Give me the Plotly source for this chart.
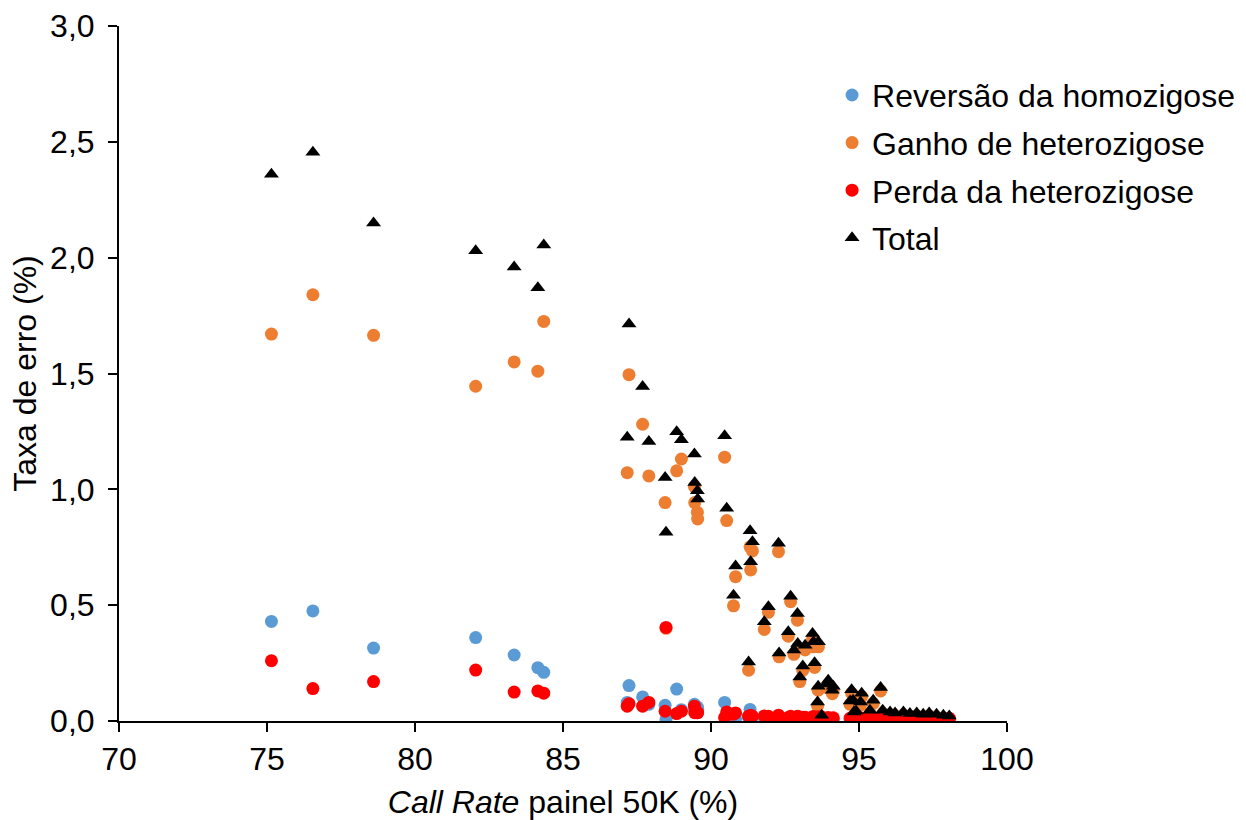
import plotly.graph_objects as go

# Call rate of each sample (%)
call_rate = [
    75.15, 76.55, 78.60, 82.05, 83.35, 84.15, 84.35,
    87.23, 87.17, 87.69, 87.90, 88.45, 88.48, 88.84, 89.00, 89.44, 89.45, 89.54, 89.55,
    90.46, 90.53, 90.83, 91.34, 90.76, 91.32, 91.40, 92.28, 91.94, 92.69, 91.80, 92.92,
    92.61, 93.43, 92.93, 93.18, 93.63, 93.46, 92.30, 92.80, 93.50, 93.10, 91.27, 93.00,
    93.96, 93.62, 94.13, 94.75, 95.09, 95.73, 94.70, 95.05, 95.48, 94.90, 95.37, 95.80,
    96.05, 96.22, 96.50, 96.72, 96.95, 97.17, 97.37, 97.62, 97.85, 98.05, 93.74, 93.60,
    94.80, 94.83, 94.10, 93.90,
]
# Reversão da homozigose (%)
reversao = [
    0.430, 0.475, 0.315, 0.360, 0.285, 0.230, 0.210,
    0.153, 0.080, 0.104, 0.072, 0.068, 0.007, 0.138, 0.049, 0.072, 0.050, 0.060, 0.050,
    0.080, 0.020, 0.010, 0.012, 0.015, 0.050, 0.020, 0.010, 0.005, 0.005, 0.012, 0.008,
    0.004, 0.005, 0.004, 0.004, 0.004, 0.004, 0.004, 0.004, 0.004, 0.003, 0.015, 0.003,
    0.003, 0.003, 0.003, 0.003, 0.003, 0.003, 0.002, 0.002, 0.002, 0.002, 0.002, 0.002,
    0.002, 0.002, 0.002, 0.002, 0.002, 0.002, 0.002, 0.002, 0.002, 0.002, 0.003, 0.003,
    0.003, 0.003, 0.003, 0.003,
]
# Ganho de heterozigose (%)
ganho = [
    1.670, 1.840, 1.665, 1.445, 1.550, 1.510, 1.725,
    1.495, 1.072, 1.281, 1.058, 0.943, 0.400, 1.080, 1.131, 1.012, 0.943, 0.901, 0.872,
    1.139, 0.865, 0.623, 0.652, 0.497, 0.752, 0.734, 0.731, 0.469, 0.515, 0.395, 0.435,
    0.366, 0.355, 0.315, 0.307, 0.320, 0.320, 0.277, 0.288, 0.231, 0.218, 0.219, 0.170,
    0.158, 0.133, 0.133, 0.120, 0.105, 0.130, 0.072, 0.068, 0.076, 0.030, 0.033, 0.033,
    0.027, 0.023, 0.027, 0.020, 0.023, 0.017, 0.023, 0.017, 0.013, 0.008, 0.005, 0.065,
    0.075, 0.025, 0.118, 0.145,
]
# Perda da heterozigose (%)
perda = [
    0.260, 0.140, 0.170, 0.220, 0.125, 0.130, 0.120,
    0.075, 0.064, 0.064, 0.080, 0.042, 0.404, 0.032, 0.042, 0.064, 0.036, 0.036, 0.036,
    0.015, 0.039, 0.035, 0.025, 0.030, 0.020, 0.020, 0.025, 0.020, 0.020, 0.022, 0.020,
    0.015, 0.018, 0.016, 0.016, 0.018, 0.018, 0.013, 0.014, 0.016, 0.016, 0.021, 0.017,
    0.015, 0.014, 0.014, 0.012, 0.012, 0.012, 0.012, 0.012, 0.012, 0.011, 0.011, 0.011,
    0.010, 0.010, 0.010, 0.010, 0.010, 0.010, 0.010, 0.010, 0.010, 0.012, 0.017, 0.014,
    0.012, 0.011, 0.012, 0.012,
]
# Total (%)
total = [
    2.360, 2.455, 2.150, 2.030, 1.960, 1.870, 2.055,
    1.714, 1.225, 1.444, 1.206, 1.051, 0.815, 1.249, 1.214, 1.153, 1.029, 0.994, 0.958,
    1.231, 0.918, 0.669, 0.687, 0.543, 0.821, 0.774, 0.767, 0.493, 0.539, 0.428, 0.464,
    0.385, 0.378, 0.335, 0.327, 0.342, 0.342, 0.294, 0.306, 0.251, 0.237, 0.255, 0.190,
    0.176, 0.150, 0.150, 0.135, 0.120, 0.145, 0.086, 0.082, 0.090, 0.043, 0.046, 0.046,
    0.039, 0.035, 0.039, 0.032, 0.035, 0.029, 0.035, 0.029, 0.025, 0.022, 0.025, 0.082,
    0.090, 0.039, 0.133, 0.160,
]

FONT = "Liberation Sans, Arial, sans-serif"
fig = go.Figure()
series = [
    ("Reversão da homozigose", reversao, "#5B9BD5", "circle", 13),
    ("Ganho de heterozigose", ganho, "#ED7D31", "circle", 13),
    ("Perda da heterozigose", perda, "#FF0000", "circle", 13),
    ("Total", total, "#000000", "triangle-up", 13),
]
for i, (name, vals, col, sym, sz) in enumerate(series):
    fig.add_trace(go.Scatter(
        x=call_rate, y=vals, mode="markers", name=name, legendgroup=f"g{i}",
        marker=dict(color=col, symbol=sym, size=sz, line=dict(width=0)),
    ))

fig.update_layout(
    width=1246, height=820,
    margin=dict(l=119, r=239, t=26, b=99, autoexpand=False),
    plot_bgcolor="white", paper_bgcolor="white",
    separators=",.",
    font=dict(family=FONT, size=32, color="black"),
    showlegend=True,
    legend=dict(x=0.803, y=0.94, xanchor="left", yanchor="top",
                bgcolor="rgba(0,0,0,0)", font=dict(size=32), tracegroupgap=3,
                itemwidth=30),
    xaxis=dict(range=[70, 100], dtick=5, tick0=70, showline=True, linecolor="black",
               linewidth=2, ticks="outside", ticklen=9, tickwidth=2, tickcolor="black",
               showgrid=False, zeroline=False, automargin=False,
               tickfont=dict(size=32),
               title=dict(text="<i>Call Rate</i> painel 50K (%)", standoff=14,
                          font=dict(size=32))),
    yaxis=dict(range=[0, 3], dtick=0.5, tick0=0, tickformat=".1f", showline=True,
               linecolor="black", linewidth=2, ticks="outside", ticklen=9, tickwidth=2,
               tickcolor="black", showgrid=False, zeroline=False, automargin=False,
               tickfont=dict(size=32), ticklabelstandoff=7,
               title=dict(text="Taxa de erro (%)", standoff=4, font=dict(size=32))),
)
fig.write_html("out.html")
